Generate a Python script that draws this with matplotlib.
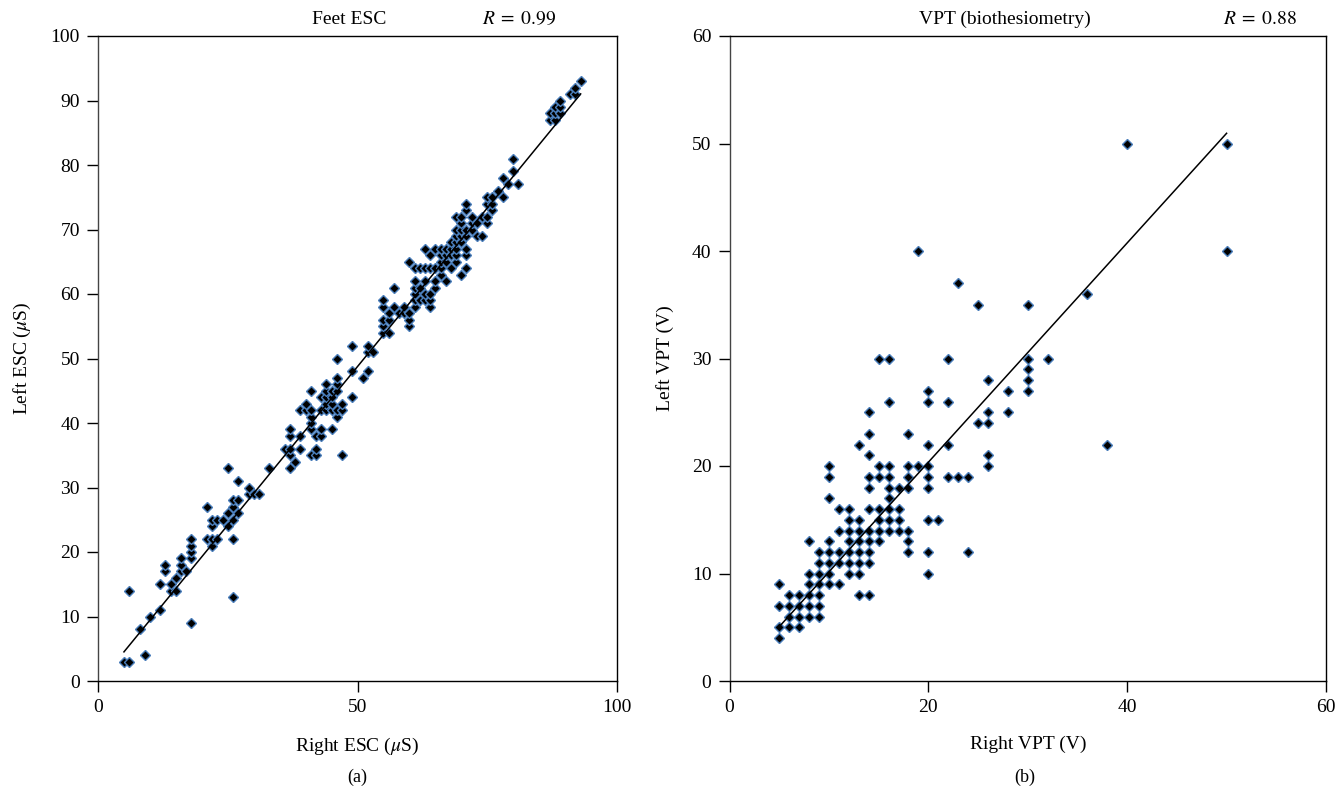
import numpy as np
import matplotlib
matplotlib.use("Agg")
import matplotlib.pyplot as plt

plt.rcParams['font.family'] = ['Liberation Serif', 'DejaVu Serif']
plt.rcParams['mathtext.fontset'] = 'stix'

# ---------------- Panel (a): Feet ESC ----------------
esc_right = [5, 6, 9, 8, 18, 10, 12, 26, 6, 14, 15, 12, 14, 15, 13, 16, 17, 13, 16, 16,
             18, 18, 18, 22, 18, 21, 22, 23, 26, 22, 25, 22, 23, 24, 26, 25, 27, 21, 26, 26,
             27, 29, 30, 31, 29, 27, 25, 33, 37, 38,
             37, 41, 42, 47,
             36, 37, 39, 42,
             37, 39, 42, 43,
             37, 41, 43, 45,
             41,
             41, 46,
             39, 40, 41, 43, 44, 45, 46, 47,
             40, 44, 45, 47,
             43, 44, 45, 49,
             41, 44, 45, 46,
             44, 46,
             46, 51,
             49, 52,
             46,
             52, 53,
             49, 52,
             55, 56,
             55, 60,
             55, 56, 60,
             56, 58, 59, 60,
             55, 57, 59, 61, 64,
             55, 61, 62, 63, 64,
             61, 63, 64,
             57, 61, 62, 65,
             61, 63, 65, 67,
             66, 70,
             61, 62, 63, 64, 65, 66, 68, 71,
             60, 66, 67, 69,
             64, 66, 67, 68, 69, 71,
             63, 65, 66, 67, 68, 69, 71,
             68, 69, 70,
             69, 70, 71, 73, 74,
             69, 70, 71, 72,
             70, 72, 73, 75,
             69, 70, 72, 74, 75,
             71, 76,
             71, 75, 76,
             75, 76, 78,
             77,
             79, 81,
             78,
             80,
             80,
             87, 88,
             87, 88, 89,
             88, 89,
             89,
             91, 92,
             92,
             93]
esc_left = [3, 3, 4, 8, 9, 10, 11, 13, 14, 14, 14, 15, 15, 16, 17, 17, 17, 18, 18, 19,
            19, 20, 21, 21, 22, 22, 22, 22, 22, 24, 24, 25, 25, 25, 25, 26, 26, 27, 27, 28,
            28, 29, 29, 29, 30, 31, 33, 33, 33, 34,
            35, 35, 35, 35,
            36, 36, 36, 36,
            38, 38, 38, 38,
            39, 39, 39, 39,
            40,
            41, 41,
            42, 42, 42, 42, 42, 42, 42, 42,
            43, 43, 43, 43,
            44, 44, 44, 44,
            45, 45, 45, 45,
            46, 46,
            47, 47,
            48, 48,
            50,
            51, 51,
            52, 52,
            54, 54,
            55, 55,
            56, 56, 56,
            57, 57, 57, 57,
            58, 58, 58, 58, 58,
            59, 59, 59, 59, 59,
            60, 60, 60,
            61, 61, 61, 61,
            62, 62, 62, 62,
            63, 63,
            64, 64, 64, 64, 64, 64, 64, 64,
            65, 65, 65, 65,
            66, 66, 66, 66, 66, 66,
            67, 67, 67, 67, 67, 67, 67,
            68, 68, 68,
            69, 69, 69, 69, 69,
            70, 70, 70, 70,
            71, 71, 71, 71,
            72, 72, 72, 72, 72,
            73, 73,
            74, 74, 74,
            75, 75, 75,
            76,
            77, 77,
            78,
            79,
            81,
            87, 87,
            88, 88, 88,
            89, 89,
            90,
            91, 91,
            92,
            93]
esc_fit = [0.983, -0.40]      # slope, intercept
esc_fit_range = [5, 93]
esc_ticks_x = [0, 50, 100]
esc_ticks_y = list(range(0, 101, 10))

# ---------------- Panel (b): VPT ----------------
vpt_right = [5,
             5, 6, 7,
             6, 7, 8, 9,
             5, 6, 7, 8, 9,
             6, 7, 8, 9, 13, 14,
             5, 8, 9, 10, 11,
             8, 9, 10, 12, 13, 20,
             9, 10, 11, 12, 13, 14,
             9, 10, 11, 12, 13, 14, 18, 20, 24,
             8, 10, 12, 13, 14, 15, 18,
             11, 12, 13, 14, 15, 16, 17, 18,
             12, 13, 15, 16, 17, 20, 21,
             11, 12, 14, 15, 16, 17,
             10, 16,
             14, 16, 17, 18, 20,
             10, 14, 15, 16, 18, 20, 22, 23, 24,
             10, 15, 16, 18, 19, 20, 26,
             14, 26,
             13, 20, 22, 38,
             14, 18,
             25, 26,
             14, 26, 28,
             16, 20, 22,
             20, 28, 30,
             26, 30,
             30,
             15, 16, 22, 30, 32,
             25, 30,
             36,
             23,
             19, 50,
             40, 50]
vpt_left = [4,
            5, 5, 5,
            6, 6, 6, 6,
            7, 7, 7, 7, 7,
            8, 8, 8, 8, 8, 8,
            9, 9, 9, 9, 9,
            10, 10, 10, 10, 10, 10,
            11, 11, 11, 11, 11, 11,
            12, 12, 12, 12, 12, 12, 12, 12, 12,
            13, 13, 13, 13, 13, 13, 13,
            14, 14, 14, 14, 14, 14, 14, 14,
            15, 15, 15, 15, 15, 15, 15,
            16, 16, 16, 16, 16, 16,
            17, 17,
            18, 18, 18, 18, 18,
            19, 19, 19, 19, 19, 19, 19, 19, 19,
            20, 20, 20, 20, 20, 20, 20,
            21, 21,
            22, 22, 22, 22,
            23, 23,
            24, 24,
            25, 25, 25,
            26, 26, 26,
            27, 27, 27,
            28, 28,
            29,
            30, 30, 30, 30, 30,
            35, 35,
            36,
            37,
            40, 40,
            50, 50]
vpt_fit = [1.02, -0.05]
vpt_fit_range = [5, 50]
vpt_ticks_x = [0, 20, 40, 60]
vpt_ticks_y = list(range(0, 61, 10))

W, H = 1339, 792
fig = plt.figure(figsize=(W / 100, H / 100), dpi=100)

axA = fig.add_axes([98 / W, (H - 681) / H, 519 / W, 645 / H])
axB = fig.add_axes([729.5 / W, (H - 681) / H, 596.5 / W, 645 / H])

mk = dict(linestyle='none', marker='D', markersize=4.6, markerfacecolor='black',
          markeredgecolor='#4a7ebb', markeredgewidth=1.0, zorder=3)
FS = 14

def style(ax, xt, yt, xlim, ylim):
    ax.set_xlim(*xlim)
    ax.set_ylim(*ylim)
    ax.set_xticks(xt)
    ax.set_yticks(yt)
    ax.tick_params(direction='out', length=8, width=1.0, labelsize=FS, pad=5, colors='black')
    for s in ax.spines.values():
        s.set_linewidth(1.0)
        s.set_color('black')
    ax.spines['left'].set_color('#444444')

# Panel (a)
axA.plot(esc_right, esc_left, **mk)
xa = np.array(esc_fit_range, dtype=float)
axA.plot(xa, esc_fit[0] * xa + esc_fit[1], color='black', lw=1.1, zorder=4)
style(axA, esc_ticks_x, esc_ticks_y, (0, 100), (0, 100))
axA.set_xlabel(r'Right ESC ($\mu$S)', fontsize=FS, labelpad=14)
axA.set_ylabel(r'Left ESC ($\mu$S)', fontsize=FS, labelpad=13)
axA.text(0.484, 1.012, 'Feet ESC', transform=axA.transAxes, ha='center', va='bottom', fontsize=FS)
axA.text(0.811, 1.012, r'$R\;=\;0.99$', transform=axA.transAxes, ha='center', va='bottom', fontsize=FS)
fig.text(357 / W, 1 - 777 / H, '(a)', ha='center', va='center', fontsize=13)

# Panel (b)
axB.plot(vpt_right, vpt_left, **mk)
xb = np.array(vpt_fit_range, dtype=float)
axB.plot(xb, vpt_fit[0] * xb + vpt_fit[1], color='black', lw=1.1, zorder=4)
style(axB, vpt_ticks_x, vpt_ticks_y, (0, 60), (0, 60))
axB.set_xlabel('Right VPT (V)', fontsize=FS, labelpad=14)
axB.set_ylabel('Left VPT (V)', fontsize=FS, labelpad=13)
axB.text(0.462, 1.012, 'VPT (biothesiometry)', transform=axB.transAxes, ha='center', va='bottom', fontsize=FS)
axB.text(0.889, 1.012, r'$R\;=\;0.88$', transform=axB.transAxes, ha='center', va='bottom', fontsize=FS)
fig.text(1025 / W, 1 - 777 / H, '(b)', ha='center', va='center', fontsize=13)

fig.savefig('out.png', dpi=100)
